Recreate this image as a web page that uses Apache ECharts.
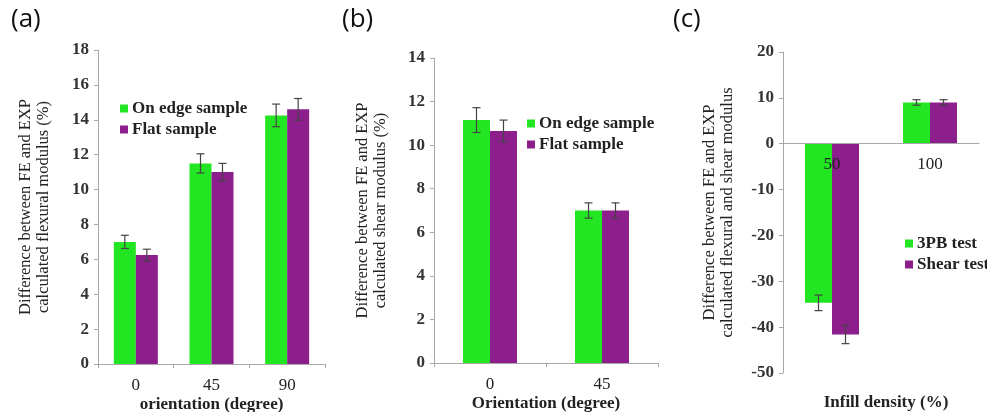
<!DOCTYPE html>
<html>
	<head>
		<meta charset="utf-8">
	</head>
	<body style="margin: 0">
		<div id="container" style="width: 987px; height: 412px"></div>
		<script src="https://cdn.jsdelivr.net/npm/echarts@6/dist/echarts.min.js"></script>
		<script>
			// panel (a)
			const cats_a = ['0', '45', '90'];
			const onEdge_a = [7.0, 11.5, 14.25];
			const flat_a = [6.25, 11.0, 14.6];
			const onEdgeErr_a = [0.38, 0.55, 0.65];
			const flatErr_a = [0.33, 0.5, 0.62];
			// panel (b)
			const cats_b = ['0', '45'];
			const onEdge_b = [11.15, 7.0];
			const flat_b = [10.65, 7.0];
			const onEdgeErr_b = [0.57, 0.35];
			const flatErr_b = [0.5, 0.35];
			// panel (c)
			const cats_c = ['50', '100'];
			const test3pb_c = [-34.7, 9.0];
			const shear_c = [-41.6, 9.0];
			const test3pbErr_c = [1.7, 0.6];
			const shearErr_c = [2.0, 0.6];

			const GREEN = '#22e622';
			const PURPLE = '#8c1f8c';
			const SERIF = '"Liberation Serif", "Times New Roman", serif';

			var myChart = echarts.init(document.getElementById('container'));

			function errData(vals, errs) {
				return vals.map((v, i) => [i, v, errs[i]]);
			}

			// draw error bar centred on one of the two bars in a group
			function errRender(side, barW) {
				return function(params, api) {
					const x = api.value(0), y = api.value(1), e = api.value(2);
					const lo = api.coord([x, y - e]);
					const hi = api.coord([x, y + e]);
					const cx = lo[0] + side * barW / 2;
					const cap = 4;
					const style = { stroke: '#444', lineWidth: 1.2 };
					return {
						type: 'group',
						children: [
							{ type: 'line', shape: { x1: cx, y1: lo[1], x2: cx, y2: hi[1] }, style: style },
							{ type: 'line', shape: { x1: cx - cap, y1: lo[1], x2: cx + cap, y2: lo[1] }, style: style },
							{ type: 'line', shape: { x1: cx - cap, y1: hi[1], x2: cx + cap, y2: hi[1] }, style: style }
						]
					};
				};
			}

			function xAx(idx, cats, name, offset) {
				return {
					type: 'category',
					gridIndex: idx,
					data: cats,
					z: 5,
					name: name,
					nameLocation: 'middle',
					nameGap: 32,
					nameMoveOverlap: false,
					nameTextStyle: { fontFamily: SERIF, fontSize: 17, fontWeight: 'bold', color: '#222' },
					offset: offset || 0,
					axisLine: { onZero: false, lineStyle: { color: '#a8a8a8' } },
					axisTick: { show: idx !== 2, length: 4, lineStyle: { color: '#a8a8a8' } },
					axisLabel: { fontFamily: SERIF, fontSize: 17, color: '#222', margin: idx === 2 ? 12 : 13 }
				};
			}

			function yAx(idx, min, max, interval, name, gap) {
				return {
					type: 'value',
					gridIndex: idx,
					min: min,
					max: max,
					interval: interval,
					name: name,
					nameLocation: 'middle',
					nameGap: gap,
					nameMoveOverlap: false,
					nameTextStyle: { fontFamily: SERIF, fontSize: 16.5, color: '#222', lineHeight: 18 },
					splitLine: { show: false },
					axisLine: { show: true, lineStyle: { color: '#a8a8a8' } },
					axisTick: { show: true, length: 4, lineStyle: { color: '#a8a8a8' } },
					axisLabel: { fontFamily: SERIF, fontSize: 17, fontWeight: 'bold', color: '#333', margin: 9 }
				};
			}

			function bar(name, idx, data, color, w) {
				return {
					name: name, type: 'bar', xAxisIndex: idx, yAxisIndex: idx,
					data: data, barWidth: w, barGap: '0%',
					itemStyle: { color: color }
				};
			}

			function err(idx, vals, errs, side, w) {
				return {
					type: 'custom', xAxisIndex: idx, yAxisIndex: idx, z: 4,
					renderItem: errRender(side, w),
					encode: { x: 0, y: 1 },
					data: errData(vals, errs),
					silent: true
				};
			}

			function leg(names, left, top) {
				return {
					data: names, left: left, top: top, orient: 'vertical',
					itemWidth: 8, itemHeight: 8, itemGap: 4, padding: 0,
					icon: 'rect',
					textStyle: { fontFamily: SERIF, fontSize: 17, fontWeight: 'bold', color: '#222', padding: [0, 0, 0, -1] }
				};
			}

			const grid_c = { left: 783, top: 52, width: 196, height: 321, outerBoundsMode: 'none' };
			const ymin_c = -50, ymax_c = 20;

			var option = {
				animation: false,
				title: [
					{ text: '(a)', left: 6, top: 2, textStyle: { fontFamily: '"Open Sans", sans-serif', fontSize: 26, fontWeight: 'normal', color: '#111' } },
					{ text: '(b)', left: 337, top: 2, textStyle: { fontFamily: '"Open Sans", sans-serif', fontSize: 26, fontWeight: 'normal', color: '#111' } },
					{ text: '(c)', left: 668, top: 2, textStyle: { fontFamily: '"Open Sans", sans-serif', fontSize: 26, fontWeight: 'normal', color: '#111' } },
					{ text: 'Infill density (%)', left: 881, top: 389, textAlign: 'center', textStyle: { fontFamily: SERIF, fontSize: 17, fontWeight: 'bold', color: '#222' } }
				],
				legend: [
					leg(['On edge sample', 'Flat sample'], 120, 100),
					leg(['On edge sample', 'Flat sample'], 527, 115),
					leg(['3PB test', 'Shear test'], 905, 235)
				],
				grid: [
					{ left: 98, top: 50, width: 227, height: 314, outerBoundsMode: 'none' },
					{ left: 434, top: 58, width: 224, height: 305, outerBoundsMode: 'none' },
					grid_c
				],
				xAxis: [
					xAx(0, cats_a, 'orientation (degree)'),
					xAx(1, cats_b, 'Orientation (degree)'),
					// category axis of (c) sits on the zero line
					xAx(2, cats_c, '', -grid_c.height * (0 - ymin_c) / (ymax_c - ymin_c))
				],
				yAxis: [
					yAx(0, 0, 18, 2, 'Difference between FE and EXP\ncalculated flexural modulus (%)', 45),
					yAx(1, 0, 14, 2, 'Difference between FE and EXP\ncalculated shear modulus (%)', 44),
					yAx(2, ymin_c, ymax_c, 10, 'Difference between FE and EXP\ncalculated flexural and shear modulus', 46)
				],
				series: [
					bar('On edge sample', 0, onEdge_a, GREEN, 22),
					bar('Flat sample', 0, flat_a, PURPLE, 22),
					err(0, onEdge_a, onEdgeErr_a, -1, 22),
					err(0, flat_a, flatErr_a, 1, 22),
					bar('On edge sample', 1, onEdge_b, GREEN, 27),
					bar('Flat sample', 1, flat_b, PURPLE, 27),
					err(1, onEdge_b, onEdgeErr_b, -1, 27),
					err(1, flat_b, flatErr_b, 1, 27),
					bar('3PB test', 2, test3pb_c, GREEN, 27),
					bar('Shear test', 2, shear_c, PURPLE, 27),
					err(2, test3pb_c, test3pbErr_c, -1, 27),
					err(2, shear_c, shearErr_c, 1, 27)
				]
			};
			myChart.setOption(option);
		</script>
	</body>
</html>
